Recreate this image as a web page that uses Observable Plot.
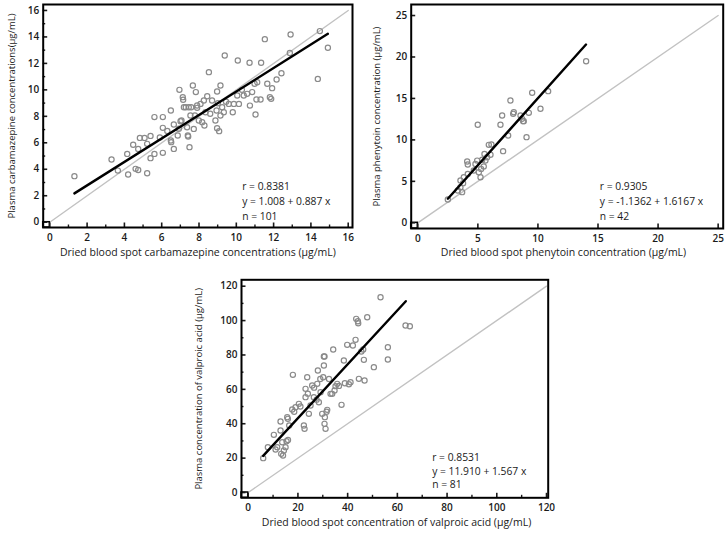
<!DOCTYPE html>
<html><head><meta charset="utf-8">
<script src="https://cdn.jsdelivr.net/npm/d3@7"></script>
<script src="https://cdn.jsdelivr.net/npm/@observablehq/plot@0.6"></script>
<style>
body{margin:0;background:#fff}
#wrap{position:relative;width:727px;height:533px;overflow:hidden;background:#fff}
#wrap svg{position:absolute}
</style></head><body><div id="wrap"></div>
<script>
// ---- Carbamazepine (n = 101) ----
const cbzDBS = [1.32,3.31,3.65,4.15,4.20,4.47,4.60,4.74,4.74,4.83,5.08,5.22,5.22,5.40,5.40,5.61,5.61,6.06,6.06,6.06,6.49,6.49,6.65,6.65,6.86,6.95,7.06,7.13,7.15,7.19,7.29,7.36,7.40,7.45,7.49,7.54,7.58,7.67,7.72,7.78,7.83,7.90,7.99,8.08,8.17,8.26,8.29,8.44,8.53,8.35,8.88,8.94,8.97,9.01,8.97,9.08,9.15,9.15,9.24,9.33,9.38,9.60,9.81,9.87,10.05,10.08,10.14,10.40,10.58,10.71,10.73,10.85,10.98,11.03,11.08,11.12,11.30,11.33,11.53,11.66,11.80,11.87,11.92,12.16,12.42,12.87,12.91,14.37,14.48,14.91,6.51,5.90,6.92,7.42,7.01,7.90,8.60,9.45,10.30,8.70,6.30];
const cbzPlasma = [3.48,4.74,3.90,5.16,3.60,5.85,4.03,3.95,5.54,6.37,6.37,5.92,3.70,6.52,4.84,5.16,7.94,7.94,7.13,5.24,6.17,8.44,5.54,7.38,6.55,10.00,7.68,9.45,9.25,8.69,8.69,7.18,6.55,8.69,5.67,8.06,8.69,10.33,7.05,8.06,9.83,8.64,7.68,8.94,7.56,9.20,7.31,9.52,11.34,8.31,7.68,8.44,9.88,8.99,7.10,6.88,10.33,8.06,8.69,8.31,12.60,8.94,8.31,8.94,9.57,12.22,8.94,9.57,9.70,12.05,8.81,9.83,10.46,8.14,9.27,10.58,9.27,12.05,13.83,10.46,9.45,9.32,10.13,10.78,11.26,12.78,14.18,10.83,14.44,13.18,6.05,6.40,7.06,6.48,7.63,8.82,8.20,9.10,10.00,9.20,6.90];
const cbzFit = {a: 1.008, b: 0.887, from: 1.32, to: 14.91};
const cbzStats = ["r = 0.8381", "y = 1.008 + 0.887 x", "n = 101"];
const cbzMajor = [0,2,4,6,8,10,12,14,16];
const cbzMinor = [1,3,5,7,9,11,13,15];

// ---- Phenytoin (n = 42) ----
const phtDBS = [2.50,3.33,3.55,3.69,3.77,3.83,4.11,4.16,4.16,4.66,4.80,4.94,4.99,5.08,5.22,5.27,5.36,5.49,5.55,5.63,5.91,6.05,6.13,6.88,7.02,7.10,7.52,7.71,7.94,7.99,8.55,8.68,8.77,8.82,9.05,9.24,9.52,10.21,10.85,14.01,5.77,3.55];
const phtPlasma = [2.81,3.90,4.30,3.70,4.78,5.50,7.40,7.03,5.90,6.30,7.10,7.50,11.82,6.10,5.50,6.50,7.60,6.80,8.30,7.50,9.40,8.20,9.44,11.82,12.94,8.64,10.53,14.75,13.14,13.34,12.94,12.54,12.26,12.26,10.33,13.26,15.68,13.75,15.88,19.49,7.90,5.10];
const phtFit = {a: -1.1362, b: 1.6167, from: 2.5, to: 14.0};
const phtStats = ["r = 0.9305", "y = -1.1362 + 1.6167 x", "n = 42"];
const phtMajor = [0,5,10,15,20,25];
const phtMinor = [];

// ---- Valproic acid (n = 81) ----
const vpaDBS = [6.03,7.91,10.32,11.67,13.0,13.0,13.27,14.35,15.02,15.42,13.68,15.69,15.96,17.7,17.97,19.04,20.38,22.39,22.66,23.06,23.06,23.73,24.4,25.07,25.74,26.41,27.76,28.02,28.43,29.1,29.77,30.17,30.44,30.7,30.44,30.7,30.84,31.11,31.78,33.12,33.79,34.19,34.73,35.13,35.8,37.54,38.48,38.88,39.82,41.16,42.1,43.18,43.44,44.11,44.25,44.52,46.26,46.53,46.8,47.87,50.55,53.23,56.18,56.18,63.29,65.03,11.0,14.0,16.5,18.5,16.0,21.0,24.0,26.5,27.5,29.0,31.5,32.5,36.5,40.5,45.5];
const vpaPlasma = [19.97,26.37,33.54,26.37,41.3,36.06,22.49,24.43,26.37,29.86,29.27,43.82,42.85,48.27,68.44,49.63,51.57,38.97,37.03,55.45,60.29,67.08,45.75,50.6,62.23,55.45,63.2,70.96,52.54,58.36,45.75,67.08,79.1,79.1,73.87,39.94,43.82,37.03,48.08,57.39,57.39,83.17,59.33,61.85,63.2,50.99,76.77,63.59,85.89,64.17,85.5,88.79,101.0,99.65,98.49,66.11,83.17,77.16,65.14,101.98,72.9,113.6,77.36,84.53,97.13,96.74,25.0,21.5,39.0,47.0,30.5,50.0,57.5,61.0,54.0,66.0,47.0,66.0,62.0,63.0,82.0];
const vpaFit = {a: 11.910, b: 1.567, from: 6.0, to: 63.4};
const vpaStats = ["r = 0.8531", "y = 11.910 + 1.567 x", "n = 81"];
const vpaMajor = [0,20,40,60,80,100,120];
const vpaMinor = [10,30,50,70,90,110];

const FONT = "'Open Sans', 'DejaVu Sans', sans-serif";

function panel(o) {
  const data = o.xs.map((x, i) => ({x, y: o.ys[i]}));
  const fitLine = [o.fit.from, o.fit.to].map(x => ({x, y: o.fit.a + o.fit.b * x}));
  const idMax = o.major[o.major.length - 1];
  const identity = [0, idMax].map(v => ({x: v, y: v}));
  const svg = Plot.plot({
    width: o.width, height: o.height,
    marginLeft: o.m[0], marginRight: o.m[1], marginTop: o.m[2], marginBottom: o.m[3],
    x: {domain: o.xd}, y: {domain: o.yd},
    style: {fontFamily: FONT, color: "#1a1a1a", background: "transparent", overflow: "visible"},
    marks: [
      Plot.line(identity, {x: "x", y: "y", stroke: "#c2c2c2", strokeWidth: 1.4}),
      Plot.dot(data, {x: "x", y: "y", r: 2.6, stroke: "#8a8a8a", strokeWidth: 1.2, fill: "none"}),
      Plot.line(fitLine, {x: "x", y: "y", stroke: "#000", strokeWidth: 2.4}),
      Plot.rect([0], {x1: () => o.xd[0], x2: () => 0, y1: () => o.yd[0], y2: () => 0, stroke: "#000", strokeWidth: 1.5, fill: "none"}),
      Plot.axisX(o.minor, {tickSize: -2.5, tickFormat: () => "", strokeWidth: 1.4, label: null}),
      Plot.axisY(o.minor, {tickSize: -2.5, tickFormat: () => "", strokeWidth: 1.4, label: null}),
      Plot.axisX(o.major, {tickSize: -4.5, tickPadding: 10.5, strokeWidth: 1.6, fontSize: 10, fontWeight: 600, label: null}),
      Plot.axisY(o.major, {tickSize: -4.5, tickPadding: 8.5, strokeWidth: 1.6, fontSize: 10, fontWeight: 600, label: null}),
      Plot.frame({stroke: "#000", strokeWidth: 2}),
      Plot.text([o.yLabel], {text: d => d, frameAnchor: "left", textAnchor: "middle", rotate: -90, dx: o.yDx, fontSize: 9.5, fill: "#1a1a1a"}),
      Plot.text([o.xLabel], {text: d => d, frameAnchor: "bottom", textAnchor: "middle", dx: o.xDx, dy: o.xDy, fontSize: 10.5, fill: "#1a1a1a"}),
      Plot.text([o.stats.join("\n")], {text: d => d, frameAnchor: "bottom-left", textAnchor: "start", lineAnchor: "middle", dx: o.sDx, dy: o.sDy, lineHeight: o.lh, fontSize: 10.3, fill: "#1a1a1a"})
    ]
  });
  svg.style.left = o.left + "px";
  svg.style.top = o.top + "px";
  document.getElementById("wrap").appendChild(svg);
}

panel({
  xs: cbzDBS, ys: cbzPlasma, fit: cbzFit, stats: cbzStats, major: cbzMajor, minor: cbzMinor,
  left: 0, top: 0, width: 360, height: 265, m: [42.7, 8, 4, 38],
  xd: [-0.354, 16.23], yd: [-0.4, 16.45],
  yLabel: "Plasma carbamazepine concentrations(µg/mL)", yDx: -31.7,
  xLabel: "Dried blood spot carbamazepine concentrations (µg/mL)", xDx: 0, xDy: 28.5,
  sDx: 199, sDy: -27.3, lh: 1.43
});
panel({
  xs: phtDBS, ys: phtPlasma, fit: phtFit, stats: phtStats, major: phtMajor, minor: phtMinor,
  left: 360, top: 0, width: 367, height: 265, m: [50.7, 4.3, 4, 37],
  xd: [-0.549, 25.42], yd: [-0.687, 26.33],
  yLabel: "Plasma phenytoin concentration (µg/mL)", yDx: -34.7,
  xLabel: "Dried blood spot phenytoin concentration (µg/mL)", xDx: -3.7, xDy: 27.5,
  sDx: 188.6, sDy: -28.3, lh: 1.43
});
panel({
  xs: vpaDBS, ys: vpaPlasma, fit: vpaFit, stats: vpaStats, major: vpaMajor, minor: vpaMinor,
  left: 180, top: 262, width: 380, height: 271, m: [61, 12.3, 17.3, 35.7],
  xd: [-2.70, 120.68], yd: [-3.08, 123.72],
  yLabel: "Plasma concentration of valproic acid (µg/mL)", yDx: -43,
  xLabel: "Dried blood spot concentration of valproic acid (µg/mL)", xDx: 1.7, xDy: 28.5,
  sDx: 190.7, sDy: -27.5, lh: 1.33
});
</script></body></html>
